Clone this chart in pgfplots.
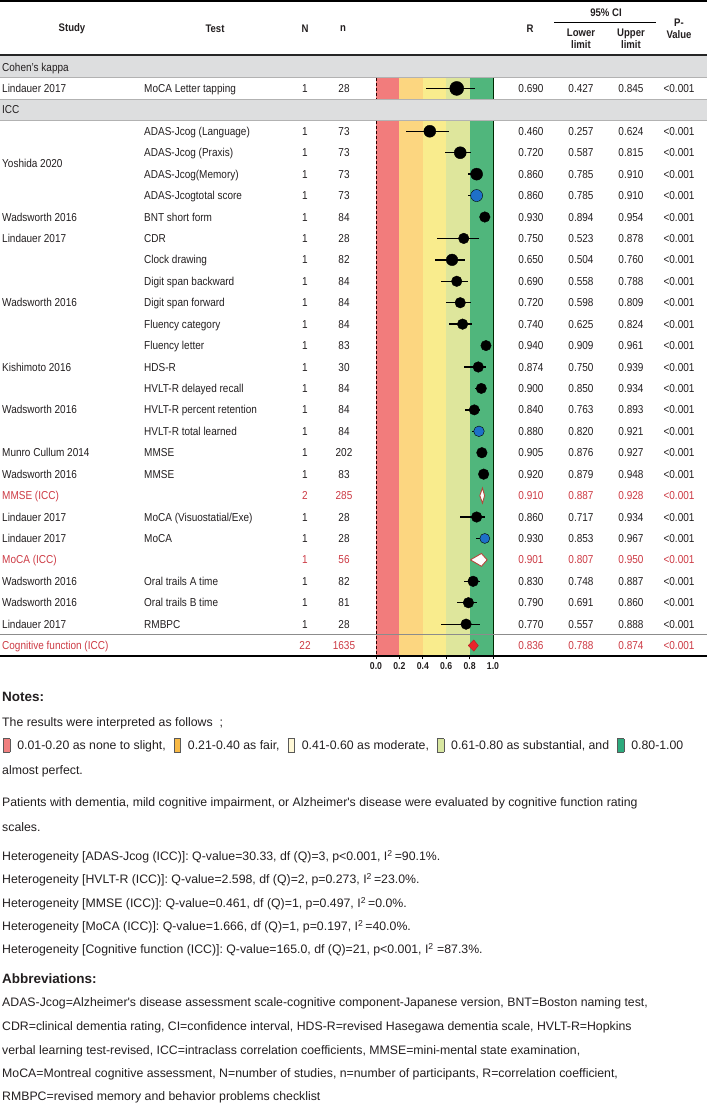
\documentclass[border=0pt]{standalone}
\usepackage{pgfplots}
\pgfplotsset{compat=1.18}
\usepackage{pgfplotstable}
\usepackage{fontspec}
\setmainfont{Liberation Sans}[FakeStretch=0.87]
\newfontfamily\nfont{Liberation Sans}

\definecolor{txt}{RGB}{35,31,32}
\definecolor{redtxt}{RGB}{204,58,68}
\definecolor{bandgray}{RGB}{221,222,223}
\definecolor{zred}{RGB}{242,124,124}
\definecolor{zorange}{RGB}{252,214,128}
\definecolor{zyellow}{RGB}{249,236,141}
\definecolor{zlgreen}{RGB}{222,230,156}
\definecolor{zgreen}{RGB}{80,182,124}
\definecolor{dotblue}{RGB}{30,112,200}
\definecolor{diared}{RGB}{232,36,43}
\definecolor{diaedge}{RGB}{180,70,60}
\definecolor{lred}{RGB}{240,128,128}
\definecolor{lorange}{RGB}{247,185,70}
\definecolor{lyellow}{RGB}{255,248,214}
\definecolor{llgreen}{RGB}{216,231,161}
\definecolor{lgreen}{RGB}{45,170,125}

\newcommand\hdr{\fontsize{11}{12}\selectfont\bfseries}
\newcommand\cell{\fontsize{11.5}{13}\selectfont}
\newcommand\ntxt{\nfont\fontsize{12.3}{14}\selectfont}
\newcommand\nhead{\nfont\fontsize{13.5}{15}\selectfont\bfseries}
\newcommand\lsq[1]{{\setlength{\fboxsep}{0pt}\setlength{\fboxrule}{0.6pt}\raisebox{-2.7pt}{\fcolorbox{black!65}{#1}{\rule{0pt}{13pt}\rule{6pt}{0pt}}}}}

% row r lo hi, marker radius s
\pgfplotstableread{
row r lo hi s
2 0.690 0.427 0.845 7.0
4 0.460 0.257 0.624 6.0
5 0.720 0.587 0.815 6.0
6 0.860 0.785 0.910 6.0
8 0.930 0.894 0.954 5.3
9 0.750 0.523 0.878 5.3
10 0.650 0.504 0.760 5.8
11 0.690 0.558 0.788 5.3
12 0.720 0.598 0.809 5.3
13 0.740 0.625 0.824 5.3
14 0.940 0.909 0.961 5.2
15 0.874 0.750 0.939 5.3
16 0.900 0.850 0.934 5.2
17 0.840 0.763 0.893 5.2
19 0.905 0.876 0.927 5.3
20 0.920 0.879 0.948 5.3
22 0.860 0.717 0.934 5.3
25 0.830 0.748 0.887 5.3
26 0.790 0.691 0.860 5.3
27 0.770 0.557 0.888 5.3
}\studies

\pgfplotstableread{
row r lo hi s
7 0.860 0.785 0.910 6.0
18 0.880 0.820 0.921 5.3
23 0.930 0.853 0.967 5.0
}\bluepts

\begin{document}
\begin{tikzpicture}[text=txt]
% grey group bands behind the forest
\begin{scope}[x=1pt,y=-1pt,shift={(0pt,1104pt)}]
  \fill[bandgray] (0,56) rectangle (707,77.7);
  \fill[bandgray] (0,99.1) rectangle (707,120.6);
  \draw[black!30, line width=0.6pt] (0,77.7) -- (707,77.7) (0,99.1) -- (707,99.1) (0,120.6) -- (707,120.6);
\end{scope}

\begin{axis}[
  at={(376pt,447.7pt)}, anchor=south west,
  width=117pt, height=578.6pt, scale only axis,
  xmin=0, xmax=1, ymin=1.5, ymax=28.5, y dir=reverse,
  axis x line*=bottom, axis y line=none,
  axis line style={black, line width=1.2pt},
  xtick={0,0.2,0.4,0.6,0.8,1},
  tick align=outside, major tick length=3pt,
  tick style={black, line width=0.8pt},
  /pgf/number format/assume math mode=true,
  xticklabel style={font=\fontsize{10}{10}\selectfont\bfseries,
    /pgf/number format/.cd, fixed, fixed zerofill, precision=1},
  clip=false]
  % interpretation bands
  \fill[zred]    (axis cs:0,1.5) rectangle (axis cs:0.2,2.5);
  \fill[zorange] (axis cs:0.2,1.5) rectangle (axis cs:0.4,2.5);
  \fill[zyellow] (axis cs:0.4,1.5) rectangle (axis cs:0.6,2.5);
  \fill[zlgreen] (axis cs:0.6,1.5) rectangle (axis cs:0.8,2.5);
  \fill[zgreen]  (axis cs:0.8,1.5) rectangle (axis cs:1,2.5);
  \fill[zred]    (axis cs:0,3.5) rectangle (axis cs:0.2,28.5);
  \fill[zorange] (axis cs:0.2,3.5) rectangle (axis cs:0.4,28.5);
  \fill[zyellow] (axis cs:0.4,3.5) rectangle (axis cs:0.6,28.5);
  \fill[zlgreen] (axis cs:0.6,3.5) rectangle (axis cs:0.8,28.5);
  \fill[zgreen]  (axis cs:0.8,3.5) rectangle (axis cs:1,28.5);
  \draw[black!70!red!60!black, line width=0.8pt, dash pattern=on 3pt off 2pt]
    (axis cs:0,1.5) -- (axis cs:0,2.5) (axis cs:0,3.5) -- (axis cs:0,28.5);
  \draw[black!60!green!40!black, line width=0.9pt]
    (axis cs:1,1.5) -- (axis cs:1,2.5) (axis cs:1,3.5) -- (axis cs:1,28.5);

  % confidence intervals
  \addplot[only marks, mark=none, forget plot,
    error bars/.cd, x dir=both, x explicit, error mark=none,
    error bar style={draw=black, line width=1.3pt}]
    table[x=r, y=row, x error plus expr=\thisrow{hi}-\thisrow{r},
          x error minus expr=\thisrow{r}-\thisrow{lo}] {\studies};
  \addplot[only marks, mark=none, forget plot,
    error bars/.cd, x dir=both, x explicit, error mark=none,
    error bar style={draw=black, line width=1.3pt}]
    table[x=r, y=row, x error plus expr=\thisrow{hi}-\thisrow{r},
          x error minus expr=\thisrow{r}-\thisrow{lo}] {\bluepts};

  % point estimates, sized by weight
  \addplot[scatter, only marks, mark=*,
    scatter/use mapped color={draw=none, fill=black},
    visualization depends on={\thisrow{s} \as \msz},
    scatter/@pre marker code/.append style={/tikz/mark size=\msz}]
    table[x=r, y=row, meta=s] {\studies};
  \addplot[scatter, only marks, mark=*,
    scatter/use mapped color={draw=none, fill=dotblue},
    visualization depends on={\thisrow{s} \as \msz},
    scatter/@pre marker code/.append style={/tikz/mark size=\msz}]
    table[x=r, y=row, meta=s] {\bluepts};

  % pooled estimates
  \addplot[fill=white, draw=diaedge, line width=0.9pt]
    coordinates {(0.887,21) (0.910,20.65) (0.928,21) (0.910,21.35) (0.887,21)};
  \addplot[fill=white, draw=diaedge, line width=0.9pt]
    coordinates {(0.807,24) (0.901,23.7) (0.950,24) (0.901,24.3) (0.807,24)};
  \addplot[fill=diared, draw=diared!80!black, line width=0.5pt]
    coordinates {(0.788,28) (0.836,27.74) (0.874,28) (0.836,28.26) (0.788,28)};
\end{axis}

\begin{scope}[x=1pt,y=-1pt,shift={(0pt,1104pt)}]
  % rules
  \draw[black, line width=1.5pt] (0,1) -- (707,1);
  \draw[black!85, line width=2pt] (0,55) -- (707,55);
  \draw[black, line width=0.8pt] (554,22) -- (656,22);
  \draw[black!45, line width=1.2pt] (0,634.5) -- (707,634.5);
  \draw[black, line width=1.5pt] (0,655.8) -- (707,655.8);

  % header
  \begin{scope}[every node/.style={font=\hdr, align=center}]
    \node at (72,29) {Study};
    \node at (215,29) {Test};
    \node at (305,29) {N};
    \node at (343,29) {n};
    \node at (530,29) {R};
    \node at (606,13) {95\% CI};
    \node at (581,39) {Lower\\limit};
    \node at (631,39) {Upper\\limit};
    \node at (679,29) {P-\\Value};
  \end{scope}

  \begin{scope}[every node/.style={font=\cell, inner sep=0pt}]
    \node[anchor=base west] at (2,71.1) {Cohen's kappa};
    \node[anchor=base west] at (2,114) {ICC};
    % study names
    \foreach \rw/\st in {2/Lindauer 2017, 5.5/Yoshida 2020, 8/Wadsworth 2016,
        9/Lindauer 2017, 12/Wadsworth 2016, 15/Kishimoto 2016, 17/Wadsworth 2016,
        19/Munro Cullum 2014, 20/Wadsworth 2016, 22/Lindauer 2017, 23/Lindauer 2017,
        25/Wadsworth 2016, 26/Wadsworth 2016, 27/Lindauer 2017}{
      \pgfmathsetmacro\py{71.1+(\rw-1)*21.43}
      \node[anchor=base west] at (2,\py) {\st};
    }
    % single studies
    \foreach \rw/\tst/\nn/\R/\lo/\hi in {
        2/MoCA Letter tapping/28/0.690/0.427/0.845,
        4/ADAS-Jcog (Language)/73/0.460/0.257/0.624,
        5/ADAS-Jcog (Praxis)/73/0.720/0.587/0.815,
        6/ADAS-Jcog(Memory)/73/0.860/0.785/0.910,
        7/ADAS-Jcogtotal score/73/0.860/0.785/0.910,
        8/BNT short form/84/0.930/0.894/0.954,
        9/CDR/28/0.750/0.523/0.878,
        10/Clock drawing/82/0.650/0.504/0.760,
        11/Digit span backward/84/0.690/0.558/0.788,
        12/Digit span forward/84/0.720/0.598/0.809,
        13/Fluency category/84/0.740/0.625/0.824,
        14/Fluency letter/83/0.940/0.909/0.961,
        15/HDS-R/30/0.874/0.750/0.939,
        16/HVLT-R delayed recall/84/0.900/0.850/0.934,
        17/HVLT-R percent retention/84/0.840/0.763/0.893,
        18/HVLT-R total learned/84/0.880/0.820/0.921,
        19/MMSE/202/0.905/0.876/0.927,
        20/MMSE/83/0.920/0.879/0.948,
        22/MoCA (Visuostatial\slash Exe)/28/0.860/0.717/0.934,
        23/MoCA/28/0.930/0.853/0.967,
        25/Oral trails A time/82/0.830/0.748/0.887,
        26/Oral trails B time/81/0.790/0.691/0.860,
        27/RMBPC/28/0.770/0.557/0.888}{
      \pgfmathsetmacro\py{71.1+(\rw-1)*21.43}
      \node[anchor=base west] at (144,\py) {\tst};
      \node[anchor=base] at (305,\py) {1};
      \node[anchor=base] at (344,\py) {\nn};
      \node[anchor=base] at (531,\py) {\R};
      \node[anchor=base] at (581,\py) {\lo};
      \node[anchor=base] at (631,\py) {\hi};
      \node[anchor=base] at (679,\py) {<0.001};
    }
    % pooled rows
    \foreach \rw/\st/\NN/\nn/\R/\lo/\hi in {
        21/MMSE (ICC)/2/285/0.910/0.887/0.928,
        24/MoCA (ICC)/1/56/0.901/0.807/0.950,
        28/Cognitive function (ICC)/22/1635/0.836/0.788/0.874}{
      \pgfmathsetmacro\py{71.1+(\rw-1)*21.43}
      \node[anchor=base west, text=redtxt] at (2,\py) {\st};
      \node[anchor=base, text=redtxt] at (305,\py) {\NN};
      \node[anchor=base, text=redtxt] at (344,\py) {\nn};
      \node[anchor=base, text=redtxt] at (531,\py) {\R};
      \node[anchor=base, text=redtxt] at (581,\py) {\lo};
      \node[anchor=base, text=redtxt] at (631,\py) {\hi};
      \node[anchor=base, text=redtxt] at (679,\py) {<0.001};
    }
  \end{scope}

  % notes
  \begin{scope}[every node/.style={font=\ntxt, inner sep=0pt, anchor=base west}]
    \node[font=\nhead] at (2,701.8) {Notes:};
    \node at (2,726.4) {The results were interpreted as follows\ \ ;};
    \node at (3,749.4) {\lsq{lred}\hspace{7pt}0.01-0.20 as none to slight,\hspace{8pt}\lsq{lorange}\hspace{7pt}0.21-0.40 as fair,\hspace{8pt}\lsq{lyellow}\hspace{7pt}0.41-0.60 as moderate,\hspace{8pt}\lsq{llgreen}\hspace{7pt}0.61-0.80 as substantial, and\hspace{8pt}\lsq{lgreen}\hspace{7pt}0.80-1.00};
    \node at (2,774.4) {almost perfect.};
    \node at (2,806.4) {Patients with dementia, mild cognitive impairment, or Alzheimer's disease were evaluated by cognitive function rating};
    \node at (2,831.4) {scales.};
    \node at (2,860.4) {Heterogeneity [ADAS-Jcog (ICC)]: Q-value=30.33, df (Q)=3, p<0.001, I\textsuperscript{2}\,=90.1\%.};
    \node at (2,883.4) {Heterogeneity [HVLT-R (ICC)]: Q-value=2.598, df (Q)=2, p=0.273, I\textsuperscript{2}\,=23.0\%.};
    \node at (2,907.4) {Heterogeneity [MMSE (ICC)]: Q-value=0.461, df (Q)=1, p=0.497, I\textsuperscript{2}\,=0.0\%.};
    \node at (2,930.4) {Heterogeneity [MoCA (ICC)]: Q-value=1.666, df (Q)=1, p=0.197, I\textsuperscript{2}\,=40.0\%.};
    \node at (2,953.4) {Heterogeneity [Cognitive function (ICC)]: Q-value=165.0, df (Q)=21, p<0.001, I\textsuperscript{2} =87.3\%.};
    \node[font=\nhead] at (2,983.8) {Abbreviations:};
    \node at (2,1006.4) {ADAS-Jcog=Alzheimer's disease assessment scale-cognitive component-Japanese version, BNT=Boston naming test,};
    \node at (2,1030.4) {CDR=clinical dementia rating, CI=confidence interval, HDS-R=revised Hasegawa dementia scale, HVLT-R=Hopkins};
    \node at (2,1054.4) {verbal learning test-revised, ICC=intraclass correlation coefficients, MMSE=mini-mental state examination,};
    \node at (2,1077.4) {MoCA=Montreal cognitive assessment, N=number of studies, n=number of participants, R=correlation coefficient,};
    \node at (2,1101) {RMBPC=revised memory and behavior problems checklist};
  \end{scope}
\end{scope}
\pgfresetboundingbox
\path[use as bounding box] (0,0) rectangle (709pt,1104pt);
\end{tikzpicture}
\end{document}
